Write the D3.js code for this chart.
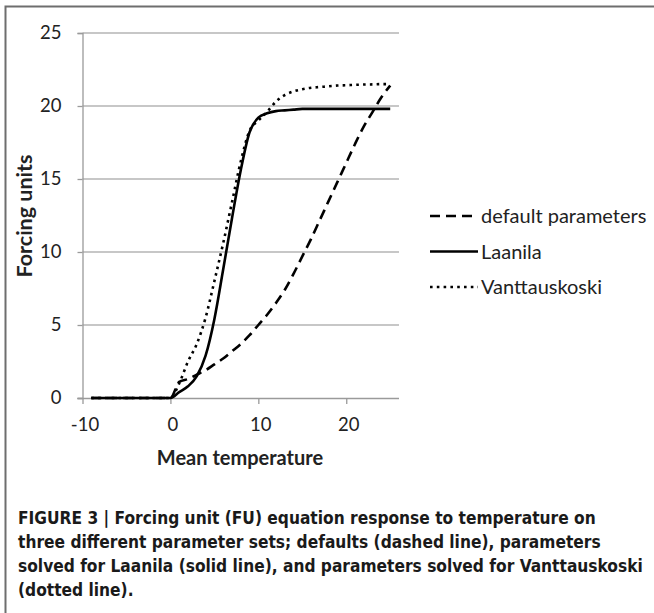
<!DOCTYPE html>
<html>
<head>
<meta charset="utf-8">
<script src="https://cdn.jsdelivr.net/npm/d3@7"></script>
<style>
  body { margin: 0; background: #fff; }
  svg { display: block; }
</style>
</head>
<body>
<svg id="chart"></svg>
<script>
// temperatures (deg C)
var temps = [-9, -8, -7, -6, -5, -4, -3, -2, -1, 0, 1, 2, 3, 4, 5, 6, 7, 8, 9, 10, 11, 12,
  13, 14, 15, 16, 17, 18, 19, 20, 21, 22, 23, 24, 25];

// forcing units
var defaultValues = [0, 0, 0, 0, 0, 0, 0, 0, 0, 0, 1.1, 1.3, 1.6, 1.9, 2.3, 2.7, 3.2, 3.7,
  4.3, 5.0, 5.7, 6.5, 7.4, 8.5, 9.7, 10.9, 12.2, 13.5, 14.8, 16.1, 17.4, 18.6, 19.6, 20.6, 21.4];
var laanilaValues = [0, 0, 0, 0, 0, 0, 0, 0, 0, 0, 0.4, 0.8, 1.5, 2.9, 5.4, 8.8, 12.3, 15.6,
  18.2, 19.2, 19.5, 19.65, 19.7, 19.75, 19.8, 19.8, 19.8, 19.8, 19.8, 19.8, 19.8, 19.8, 19.8, 19.8, 19.8];
var vanttauskoskiValues = [0, 0, 0, 0, 0, 0, 0, 0, 0, 0, 1.0, 2.5, 3.7, 5.5, 8.0, 10.6, 13.4,
  16.2, 18.3, 19.0, 19.6, 20.3, 20.75, 21.0, 21.15, 21.25, 21.3, 21.35, 21.4, 21.42, 21.45, 21.47,
  21.48, 21.5, 21.5];

var seriesNames = ["default parameters", "Laanila", "Vanttauskoski"];
var xTicks = [-10, 0, 10, 20];
var yTicks = [0, 5, 10, 15, 20, 25];

var captionLines = [
  "FIGURE 3 | Forcing unit (FU) equation response to temperature on",
  "three different parameter sets; defaults (dashed line), parameters",
  "solved for Laanila (solid line), and parameters solved for Vanttauskoski",
  "(dotted line)."
];

var W = 654, H = 613;
var chartFont = "Lato, 'Open Sans', sans-serif";
var svg = d3.select("svg#chart").attr("width", W).attr("height", H);

// frame around the figure (top + left only)
svg.append("path")
  .attr("d", "M5.5,613V6.5H654")
  .attr("fill", "none")
  .attr("stroke", "#6e6e6e")
  .attr("stroke-width", 2);

var x = d3.scaleLinear().domain([-10, 26]).range([82.5, 399]);
var y = d3.scaleLinear().domain([0, 25]).range([398, 33]);

// horizontal gridlines
svg.append("g")
  .selectAll("line")
  .data(yTicks.slice(1))
  .enter()
  .append("line")
  .attr("x1", x(-10))
  .attr("x2", x(26))
  .attr("y1", (d) => y(d))
  .attr("y2", (d) => y(d))
  .attr("stroke", "#b5b5b5")
  .attr("stroke-width", 1.3);

var axisColor = "#9a9a9a";

var yAxis = svg.append("g")
  .attr("transform", "translate(" + x(-10) + ",0)")
  .call(d3.axisLeft(y).tickValues(yTicks).tickFormat((d) => String(d)).tickSize(5).tickPadding(16));

var xAxis = svg.append("g")
  .attr("transform", "translate(0," + y(0) + ")")
  .call(d3.axisBottom(x).tickValues(xTicks).tickFormat((d) => String(d)).tickSize(6).tickPadding(14));

[yAxis, xAxis].forEach(function (ax) {
  ax.select(".domain").attr("stroke", axisColor).attr("stroke-width", 1.3);
  ax.selectAll(".tick line").attr("stroke", axisColor).attr("stroke-width", 1.3);
  ax.selectAll("text")
    .attr("fill", "#222")
    .style("font-family", chartFont)
    .style("font-size", "18.5px");
});
// x axis line starts at the y tick on the left
xAxis.select(".domain").attr("d", "M" + (x(-10) - 5) + ",0.5H" + x(26));
xAxis.selectAll(".tick text").attr("dx", 2);

// axis titles
svg.append("text")
  .attr("x", 240)
  .attr("y", 465)
  .attr("text-anchor", "middle")
  .style("font-family", chartFont)
  .style("font-weight", "bold")
  .style("font-size", "20px")
  .attr("fill", "#222")
  .text("Mean temperature");

svg.append("text")
  .attr("transform", "translate(32,216) rotate(-90)")
  .attr("text-anchor", "middle")
  .style("font-family", chartFont)
  .style("font-weight", "bold")
  .style("font-size", "21.5px")
  .attr("fill", "#222")
  .text("Forcing units");

// series lines
var series = [
  { name: seriesNames[0], values: defaultValues, dash: "10,6" },
  { name: seriesNames[1], values: laanilaValues, dash: null },
  { name: seriesNames[2], values: vanttauskoskiValues, dash: "2.6,4.2" }
];

var line = d3.line()
  .x((d) => x(d[0]))
  .y((d) => y(d[1]))
  .curve(d3.curveMonotoneX);

svg.append("g")
  .selectAll("path")
  .data(series)
  .enter()
  .append("path")
  .attr("d", (s) => line(temps.map((t, i) => [t, s.values[i]])))
  .attr("fill", "none")
  .attr("stroke", "#000")
  .attr("stroke-width", 2.6)
  .attr("stroke-dasharray", (s) => s.dash);

// legend
var legend = svg.append("g").attr("transform", "translate(430,216)");
var item = legend.selectAll("g")
  .data(series)
  .enter()
  .append("g")
  .attr("transform", (d, i) => "translate(0," + i * 35.5 + ")");

item.append("line")
  .attr("x1", 0)
  .attr("x2", 48)
  .attr("stroke", "#000")
  .attr("stroke-width", 2.6)
  .attr("stroke-dasharray", (d) => d.dash);

item.append("text")
  .attr("x", 51)
  .attr("y", 7)
  .style("font-family", chartFont)
  .style("font-size", "20px")
  .attr("fill", "#222")
  .text((d) => d.name);

// caption
svg.append("g")
  .selectAll("text")
  .data(captionLines)
  .enter()
  .append("text")
  .attr("x", 18)
  .attr("y", (d, i) => 524 + i * 24)
  .style("font-family", "'Liberation Sans Narrow', 'DejaVu Sans Condensed', sans-serif")
  .style("font-weight", "bold")
  .style("font-size", "17.2px")
  .attr("fill", "#1a1a1a")
  .text((d) => d);
</script>
</body>
</html>
